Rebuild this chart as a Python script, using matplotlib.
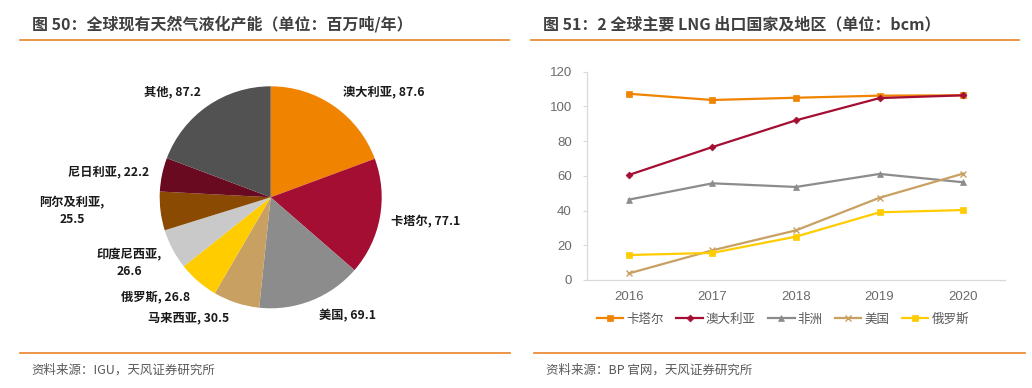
import matplotlib
matplotlib.use("Agg")
import matplotlib.pyplot as plt
from matplotlib.lines import Line2D

CJK = ["Noto Sans CJK SC", "DejaVu Sans"]

# ── Pie data (图 50) ──
pie_labels = ["澳大利亚", "卡塔尔", "美国", "马来西亚", "俄罗斯",
              "印度尼西亚", "阿尔及利亚", "尼日利亚", "其他"]
pie_values = [87.6, 77.1, 69.1, 30.5, 26.8, 26.6, 25.5, 22.2, 87.2]
pie_colors = ["#F08300", "#A50E33", "#8C8C8C", "#C8A062", "#FFCC00",
              "#C9C9C9", "#8B4A02", "#6A0A21", "#525252"]

# ── Line data (图 51) ──
years = ["2016", "2017", "2018", "2019", "2020"]
series_names = ["卡塔尔", "澳大利亚", "非洲", "美国", "俄罗斯"]
qatar = [107.3, 103.7, 105.0, 106.2, 106.4]
australia = [60.5, 76.6, 92.0, 104.8, 106.4]
africa = [46.3, 55.7, 53.6, 61.1, 56.3]
usa = [3.8, 17.1, 28.6, 47.4, 61.3]
russia = [14.4, 15.6, 25.0, 39.0, 40.3]

W, H = 1032, 388
fig = plt.figure(figsize=(W / 100, H / 100), dpi=100)
fig.patch.set_facecolor("white")


def fx(px):
    return px / W


def fy(py):
    return (H - py) / H


# ── Titles, rules, sources ──
title_kw = dict(family=CJK, fontsize=11.5, fontweight="bold", color="#404040", va="center")
fig.text(fx(32), fy(24), "图 50：全球现有天然气液化产能（单位：百万吨/年）", **title_kw)
fig.text(fx(543), fy(24), "图 51：2 全球主要 LNG 出口国家及地区（单位：bcm）", **title_kw)

rule_c = "#E8842A"
for x0, x1, y in [(20, 509, 40), (531, 1019, 40), (20, 510, 353), (534, 1025, 353)]:
    fig.add_artist(Line2D([fx(x0), fx(x1)], [fy(y), fy(y)], color=rule_c, lw=1.2,
                          transform=fig.transFigure))

src_kw = dict(family=CJK, fontsize=9, color="#595959", va="center")
fig.text(fx(31), fy(370), "资料来源：IGU，天风证券研究所", **src_kw)
fig.text(fx(546), fy(370), "资料来源：BP 官网，天风证券研究所", **src_kw)

# ── Pie chart ──
R = 111.0
cx, cy = 270.7, 197.3
axp = fig.add_axes([fx(20), fy(345), fx(490), 285 / H])
axp.pie(pie_values, colors=pie_colors, startangle=90, counterclock=False,
        radius=1.0, wedgeprops=dict(linewidth=0))
axp.set_xlim((20 - cx) / R, (510 - cx) / R)
axp.set_ylim((cy - 345) / R, (cy - 60) / R)
axp.set_aspect("auto")
axp.axis("off")

# label anchor positions in pixels: (x, y, ha)
label_pos = [(343, 92, "left"), (391, 222, "left"), (319, 316, "left"),
             (148, 318, "left"), (121, 297, "left"), (129, 263, "center"),
             (72, 211, "center"), (68, 172, "left"), (144, 92, "left")]
for name, val, (px, py, ha) in zip(pie_labels, pie_values, label_pos):
    txt = f"{name}, {val}"
    if ha == "center":
        txt = f"{name},\n{val}"
    axp.text((px - cx) / R, (cy - py) / R, txt, ha=ha, va="center",
             family=CJK, fontsize=8.8, fontweight="bold", color="#1a1a1a",
             linespacing=1.35)

# ── Line chart ──
axl = fig.add_axes([fx(587), fy(280), fx(418), 208.3 / H])
x = range(len(years))
styles = [
    (qatar, "#F08300", "s", 5),
    (australia, "#A50E33", "D", 3.5),
    (africa, "#8C8C8C", "^", 5),
    (usa, "#C8A062", "x", 5),
    (russia, "#FFCC00", "s", 5),
]
for name, (vals, c, m, ms) in zip(series_names, styles):
    axl.plot(x, vals, color=c, lw=1.6, marker=m, markersize=ms,
             markeredgewidth=1.0 if m == "x" else 0.5, label=name)

axl.set_xlim(-0.5, len(years) - 0.5)
axl.set_ylim(0, 120)
axl.set_yticks(range(0, 121, 20))
axl.set_xticks(list(x))
axl.set_xticklabels(years)
for s in ["top", "right"]:
    axl.spines[s].set_visible(False)
for s in ["left", "bottom"]:
    axl.spines[s].set_color("#D9D9D9")
    axl.spines[s].set_linewidth(0.9)
axl.tick_params(axis="y", length=3, color="#D9D9D9", labelsize=9.5, labelcolor="#6b6b6b", pad=8)
axl.tick_params(axis="x", length=0, labelsize=9.5, labelcolor="#6b6b6b", pad=8)
for lab in axl.get_xticklabels() + axl.get_yticklabels():
    lab.set_family("Liberation Sans")

leg = fig.legend(*axl.get_legend_handles_labels(), loc="center",
                 bbox_to_anchor=(fx(783), fy(319)), ncol=5, frameon=False,
                 prop={"family": CJK, "size": 9}, handlelength=2.1,
                 handletextpad=0.25, columnspacing=1.0, borderpad=0)
for t in leg.get_texts():
    t.set_color("#595959")

fig.savefig("out.png", dpi=100, facecolor="white")
